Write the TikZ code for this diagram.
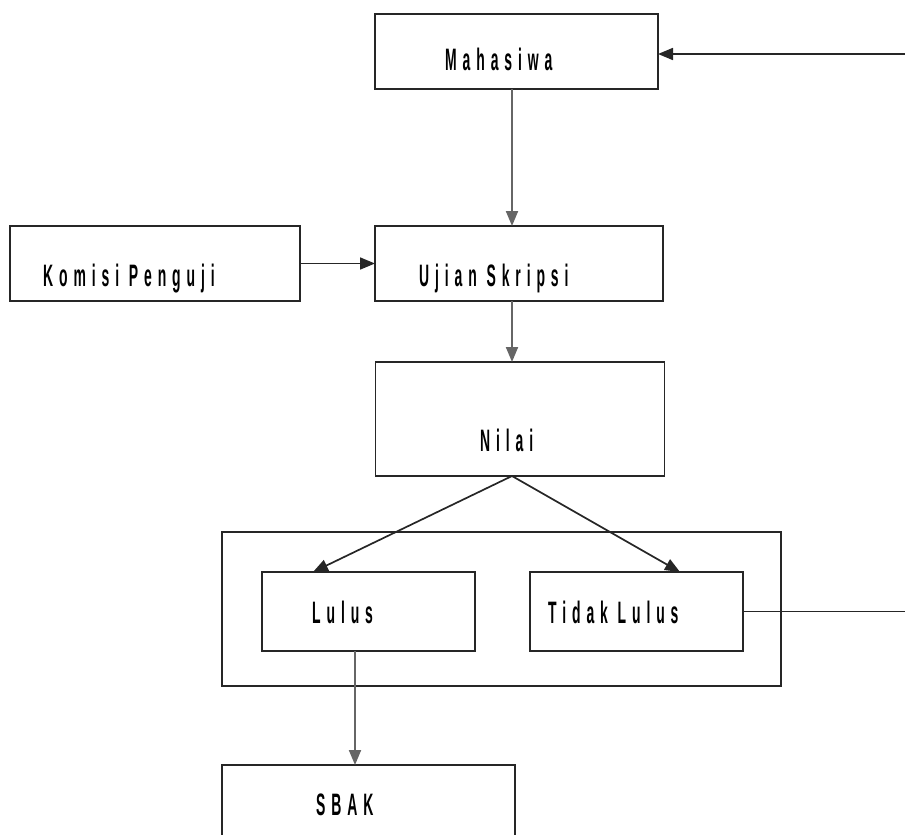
\documentclass[tikz,border=0pt]{standalone}
\usepackage{fontspec}
\setmainfont{Liberation Sans}[FakeStretch=0.45, LetterSpace=19]
\usetikzlibrary{arrows.meta}
\begin{document}
\begin{tikzpicture}[x=1pt,y=-1pt,
  box/.style={draw=black!85, line width=1.9pt, rectangle, inner sep=0pt, outer sep=0pt},
  lbl/.style={font=\fontsize{31}{33}\selectfont\bfseries, inner sep=0pt, anchor=base west, text=black},
  conn/.style={line width=2pt, draw=black!60, -{Triangle[length=15pt,width=12pt]}},
  dconn/.style={line width=1.7pt, draw=black!85, -{Triangle[length=15pt,width=12pt]}},
  plain/.style={line width=1.7pt, draw=black!85},
]
\useasboundingbox (0,0) rectangle (905,835);
% boxes
\node[box, minimum width=283pt, minimum height=75pt] (mah) at (516.5,51.5) {};
\node[box, minimum width=288pt, minimum height=75pt] (uji) at (519,263.5) {};
\node[box, minimum width=290pt, minimum height=75pt] (kom) at (155,263.5) {};
\node[box, minimum width=289pt, minimum height=114pt] (nil) at (520,419) {};
\node[box, minimum width=559pt, minimum height=154pt] (grp) at (501.5,609) {};
\node[box, minimum width=213pt, minimum height=79pt] (lul) at (368.5,611.5) {};
\node[box, minimum width=213pt, minimum height=79pt] (tdk) at (636.5,611.5) {};
\node[box, minimum width=293pt, minimum height=80pt] (sbk) at (368.5,805) {};
% labels
\node[lbl] (tmah) at (445,70) {Mahasiwa};
\node[lbl] (tuji) at (419,286) {Ujian Skripsi};
\node[lbl] (tkom) at (43,286) {Komisi Penguji};
\node[lbl] (tnil) at (480,451) {Nilai};
\node[lbl] (tlul) at (312,623) {Lulus};
\node[lbl] (ttdk) at (548,623) {Tidak Lulus};
\node[lbl] (tsbk) at (316,815) {SBAK};
% free ends at the right edge
\coordinate (rtop) at (905,54);
\coordinate (rbot) at (905,611.5);
% connectors
\draw[conn] (mah.south -| 512,0) -- (uji.north -| 512,0);
\draw[conn] (uji.south -| 512,0) -- (nil.north -| 512,0);
\draw[dconn] (kom.east) -- (uji.west);
\draw[dconn] (nil.south -| 512,0) -- (lul.north -| 313,0);
\draw[dconn] (nil.south -| 512,0) -- (tdk.north -| 680,0);
\draw[conn] (lul.south -| 355,0) -- (sbk.north -| 355,0);
\draw[plain] (tdk.east) -- (rbot);
\draw[dconn] (rtop) -- (mah.east |- rtop);
\end{tikzpicture}
\end{document}
